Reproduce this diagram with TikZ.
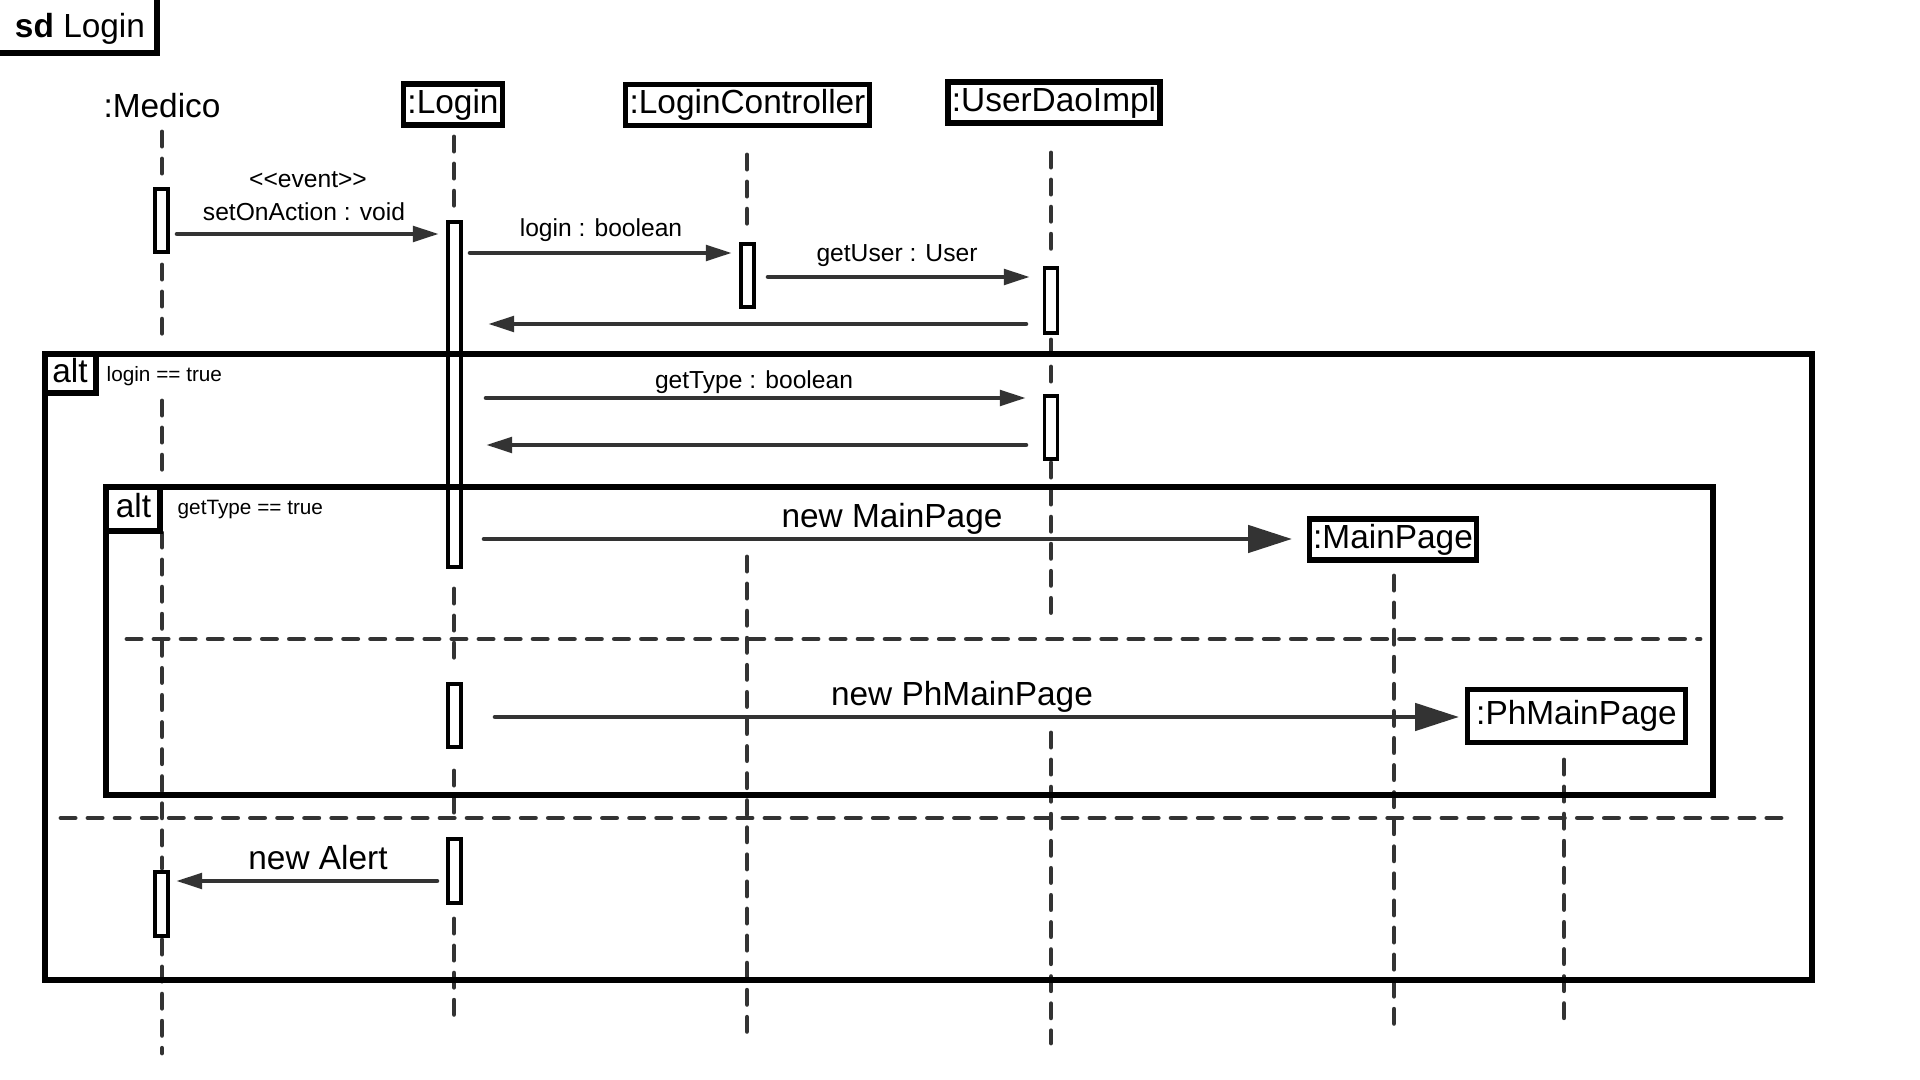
\documentclass[tikz,border=0pt]{standalone}
\usepackage{fontspec}
\setmainfont{Liberation Sans}
\usetikzlibrary{arrows.meta}

\definecolor{linegray}{HTML}{333333}
\newcommand{\hdfont}{\fontsize{9.5}{11}\selectfont}
\newcommand{\msgfont}{\fontsize{7}{8.5}\selectfont}
\newcommand{\condfont}{\fontsize{5.9}{7}\selectfont}

\tikzset{
  frame/.style={draw=black, line width=1.45pt},
  headbox/.style={draw=black, line width=1.45pt, font=\hdfont, inner xsep=1.1pt, inner ysep=0pt, minimum height=0.41cm},
  actbar/.style={draw=black, fill=white, line width=0.9pt},
  lifeline/.style={draw=linegray, line width=1.4pt, line cap=round, dash pattern=on 4pt off 3.7pt},
  msg/.style={draw=linegray, line width=1.3pt, line cap=round, -{Triangle[length=7.4pt,width=4.3pt]}},
  bigmsg/.style={draw=linegray, line width=1.3pt, line cap=round, -{Triangle[length=12.5pt,width=7.7pt]}},
  lbl/.style={font=\msgfont, inner sep=0pt, anchor=base},
  biglbl/.style={font=\hdfont, inner sep=0pt, anchor=base},
  cond/.style={font=\condfont, inner sep=0pt, anchor=base west}
}

\begin{document}
\begin{tikzpicture}[x=0.01cm,y=-0.01cm]
  \useasboundingbox (0,0) rectangle (1920,1080);
  \clip (0,0) rectangle (1920,1080);
  \fill[white] (0,0) rectangle (1920,1080);

  \draw[frame] (-10,-10) rectangle (157,53);
  \node[biglbl] (sd) at (80,38) {\textbf{sd} Login};

  \node[biglbl] (medico) at (162,118) {:Medico};
  \node[headbox] (login) at (453,104.5) {:Login};
  \node[headbox] (ctrl) at (747.5,105) {:LoginController};
  \node[headbox] (dao) at (1054,102.5) {:UserDaoImpl};
  \node[headbox] (mainpage) at (1393,539.5) {:MainPage};
  \node[headbox, minimum height=0.53cm, inner xsep=2.6pt] (phmainpage) at (1576.5,716) {:PhMainPage};

  \foreach \x/\a/\b in {162/132/186, 162/265/335, 162/401/476, 162/533/868, 162/940/1053,
                        454/137/216, 454/589/665, 454/771/815, 454/919/1019,
                        747/155/232, 747/557/1037,
                        1051/153/258, 1051/340/392, 1051/463/618, 1051/733/1043,
                        1394/576/1032, 1564/760/1019}
    \draw[lifeline] (\x,\a) -- (\x,\b);

  \foreach \x/\a/\b in {161.5/189/252, 454.5/222/567, 747.5/244/307, 1051/268/333,
                        1051/396/459, 454.5/684/747, 454.5/839/903, 161.5/872/936}
    \draw[actbar] (\x-6.5,\a) rectangle (\x+6.5,\b);

  \draw[frame] (45,354) rectangle (1812,980);
  \draw[frame] (45,354) rectangle (96,393);
  \node[biglbl] (alt1) at (70,383) {alt};
  \node[cond] (cond1) at (106,382) {login == true};
  \draw[frame] (106,487) rectangle (1713,795);
  \draw[frame] (106,487) rectangle (160,531);
  \node[biglbl] (alt2) at (133.5,518) {alt};
  \node[cond] (cond2) at (177,515) {getType == true};
  \draw[lifeline] (127,639) -- (1700,639);
  \draw[lifeline] (61,818) -- (1792,818);

  \coordinate (ev-s) at (177,234);   \coordinate (ev-e) at (439,234);
  \coordinate (lg-s) at (470,253);   \coordinate (lg-e) at (732,253);
  \coordinate (gu-s) at (768,277);   \coordinate (gu-e) at (1030,277);
  \coordinate (r1-s) at (1026,324);  \coordinate (r1-e) at (488,324);
  \coordinate (gt-s) at (486,398);   \coordinate (gt-e) at (1026,398);
  \coordinate (r2-s) at (1026,445);  \coordinate (r2-e) at (486,445);
  \coordinate (mp-s) at (484,539);   \coordinate (mp-e) at (1292,539);
  \coordinate (pm-s) at (495,717);   \coordinate (pm-e) at (1459,717);
  \coordinate (al-s) at (437,881);   \coordinate (al-e) at (176,881);

  \draw[msg] (ev-s) -- (ev-e);
  \draw[msg] (lg-s) -- (lg-e);
  \draw[msg] (gu-s) -- (gu-e);
  \draw[msg] (r1-s) -- (r1-e);
  \draw[msg] (gt-s) -- (gt-e);
  \draw[msg] (r2-s) -- (r2-e);
  \draw[bigmsg] (mp-s) -- (mp-e);
  \draw[bigmsg] (pm-s) -- (pm-e);
  \draw[msg] (al-s) -- (al-e);

  \node[lbl] (evlbl) at (308,188) {<{}<event>{}>};
  \node[lbl] (evname) at (304,221) {setOnAction : void};
  \node[lbl] (lglbl) at (601,237) {login : boolean};
  \node[lbl] (gulbl) at (897,262) {getUser : User};
  \node[lbl] (gtlbl) at (754,389) {getType : boolean};
  \node[biglbl] (mplbl) at (892,528) {new MainPage};
  \node[biglbl] (pmlbl) at (962,706) {new PhMainPage};
  \node[biglbl] (allbl) at (318,870) {new Alert};
\end{tikzpicture}
\end{document}
